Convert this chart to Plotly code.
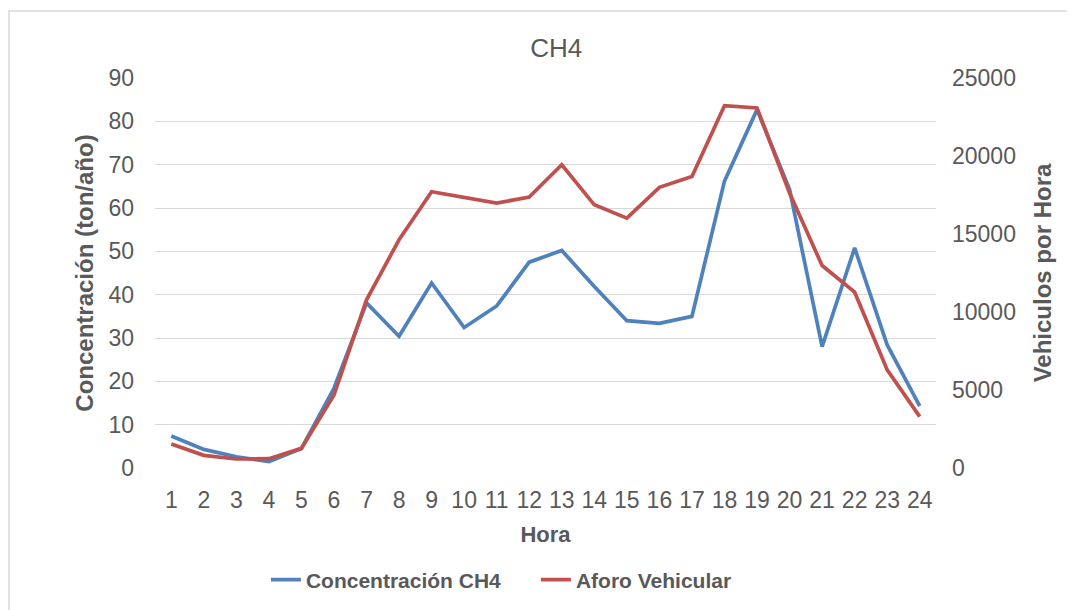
import plotly.graph_objects as go

horas = list(range(1, 25))
hora_labels = [str(h) for h in horas]
concentracion_ch4 = [7.4, 4.3, 2.6, 1.5, 4.5, 18.4, 38.1, 30.4, 42.7, 32.4, 37.4, 47.5,
                     50.2, 41.9, 34.0, 33.4, 35.0, 66.2, 82.7, 64.3, 28.0, 50.8, 28.4, 14.3]
aforo_vehicular = [1540, 813, 577, 600, 1260, 4680, 10780, 14630, 17710, 17370, 16980, 17370,
                   19440, 16870, 16020, 17990, 18690, 23220, 23080, 17620, 12980, 11270, 6290, 3290]
left_ticks = [0, 10, 20, 30, 40, 50, 60, 70, 80, 90]
right_ticks = [0, 5000, 10000, 15000, 20000, 25000]

FONT = "Liberation Sans, Arial, sans-serif"
GREY = "#595959"

fig = go.Figure()
fig.add_trace(go.Scatter(x=hora_labels, y=concentracion_ch4, name="Concentración CH4",
                         mode="lines", line=dict(color="#4f81bd", width=3.7)))
fig.add_trace(go.Scatter(x=hora_labels, y=aforo_vehicular, name="Aforo Vehicular",
                         mode="lines", line=dict(color="#c0504d", width=3.7), yaxis="y2"))

fig.update_layout(
    width=1075, height=610,
    margin=dict(l=147, r=147, t=70, b=150),
    paper_bgcolor="white", plot_bgcolor="white",
    title=dict(text="CH4", x=0.51, xanchor="center", y=0.935, yanchor="middle",
               font=dict(family=FONT, size=26, color=GREY)),
    xaxis=dict(type="category", range=[-0.5, 23.5], tickangle=0,
               tickfont=dict(family=FONT, size=23, color=GREY),
               showgrid=False, showline=False, ticks="", ticklabelstandoff=16,
               title=dict(text="<b>Hora</b>", font=dict(family=FONT, size=22, color=GREY), standoff=14)),
    yaxis=dict(range=[0, 90], tickvals=left_ticks, tickfont=dict(family=FONT, size=23, color=GREY),
               gridcolor="#d9d9d9", gridwidth=1.3, zeroline=False, showline=False, ticks="",
               ticklabelstandoff=20,
               title=dict(text="<b>Concentración (ton/año)</b>", font=dict(family=FONT, size=24, color=GREY), standoff=8)),
    yaxis2=dict(range=[0, 25000], tickvals=right_ticks, tickformat="d", overlaying="y", side="right",
                tickfont=dict(family=FONT, size=23, color=GREY), showgrid=False, zeroline=False,
                showline=False, ticks="", ticklabelstandoff=15,
                title=dict(text="<b>Vehiculos por Hora</b>", font=dict(family=FONT, size=24, color=GREY), standoff=19)),
    legend=dict(orientation="h", x=0.142, xanchor="left", y=-0.287, yanchor="middle",
                font=dict(family=FONT, size=21, color=GREY),
                traceorder="normal", entrywidth=225, entrywidthmode="pixels"),
    shapes=[dict(type="rect", xref="paper", yref="paper", x0=-0.187, x1=1.3, y0=-0.5, y1=1.172,
                 line=dict(color="#d9d9d9", width=1.5), fillcolor="rgba(0,0,0,0)", layer="below")],
)
fig.update_layout(legend_font_weight="bold")

fig.write_html("out.html")
